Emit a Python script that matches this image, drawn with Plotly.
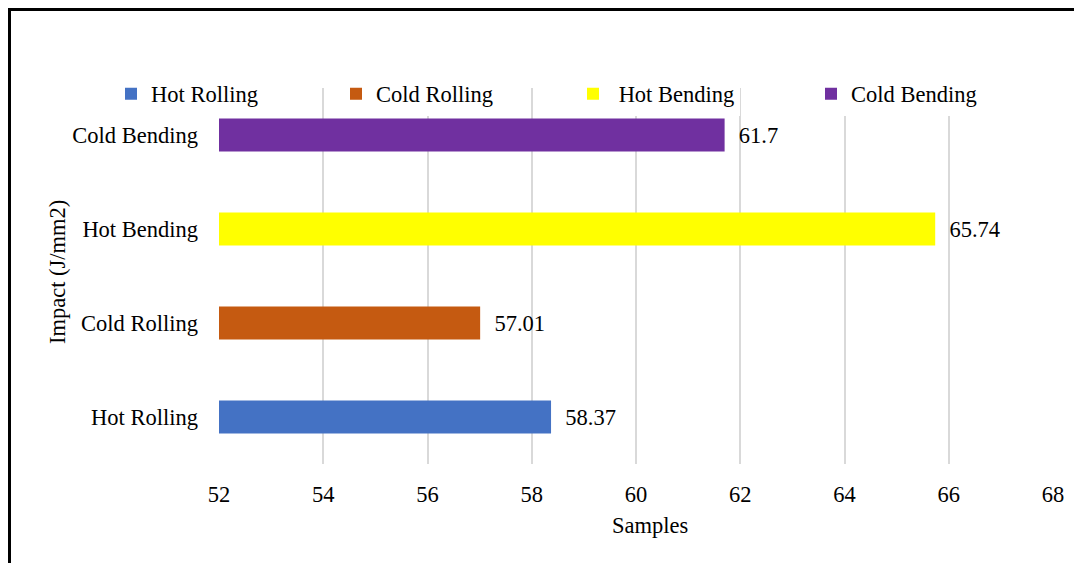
import plotly.graph_objects as go

categories = ["Hot Rolling", "Cold Rolling", "Hot Bending", "Cold Bending"]
legend_names = ["Hot Rolling", "Cold Rolling", " Hot Bending", "Cold Bending"]
values = [58.37, 57.01, 65.74, 61.7]
labels = ["58.37", "57.01", "65.74", "61.7"]
colors = ["#4472C4", "#C55A11", "#FFFF00", "#7030A0"]
x_ticks = [52, 54, 56, 58, 60, 62, 64, 66, 68]
x_title = "Samples"
y_title = "Impact (J/mm2)"
AXIS_MIN = 52

FONT = "Liberation Serif, Times New Roman, serif"
FS = 22.5

# figure geometry (page is offset by 8px body margin)
W, H = 1074, 555
L, R, T, B = 211, 29, 80, 99
pw = W - L - R
ph = H - T - B


def px_x(p):
    return (p - L) / pw


def px_y(p):
    return (H - B - p) / ph


legend_ids = ["legend", "legend2", "legend3", "legend4"]
legend_marker_centers = [137, 362, 599, 837]  # page px of reference markers

fig = go.Figure()
for cat, name, v, lab, c, lid in zip(categories, legend_names, values, labels, colors, legend_ids):
    fig.add_trace(go.Bar(
        y=[cat], x=[v - AXIS_MIN], base=AXIS_MIN, name=name, orientation="h",
        marker=dict(color=c, line=dict(width=0)),
        width=0.35,
        text=["\u00a0\u00a0" + lab], textposition="outside",
        textfont=dict(family=FONT, size=FS, color="black"),
        cliponaxis=False, legend=lid,
    ))

legends = {}
for lid, mc in zip(legend_ids, legend_marker_centers):
    legends[lid] = dict(
        orientation="h", x=px_x(mc - 8 - 26), y=px_y(94 - 8),
        xanchor="left", yanchor="middle",
        font=dict(family=FONT, size=FS, color="black"),
        bgcolor="white", borderwidth=0, itemclick=False, itemdoubleclick=False,
    )

fig.update_layout(
    width=W, height=H,
    margin=dict(l=L, r=R, t=T, b=B),
    paper_bgcolor="white", plot_bgcolor="white",
    barmode="overlay",
    font=dict(family=FONT, size=FS, color="black"),
    showlegend=True,
    xaxis=dict(
        range=[52, 68], tickvals=x_ticks, ticktext=[str(t) for t in x_ticks],
        showgrid=True, gridcolor="#D9D9D9", gridwidth=2,
        zeroline=False, showline=False, ticks="", ticklabelstandoff=14,
        tickfont=dict(family=FONT, size=FS),
    ),
    yaxis=dict(
        categoryorder="array", categoryarray=categories,
        range=[-0.5, 3.5],
        showgrid=False, zeroline=False, showline=False, ticks="",
        ticklabelstandoff=20,
        tickfont=dict(family=FONT, size=FS),
    ),
    annotations=[
        dict(text=x_title, xref="paper", yref="paper",
             x=px_x(650 - 8), y=px_y(525 - 8), xanchor="center", yanchor="middle",
             showarrow=False, font=dict(family=FONT, size=FS, color="black")),
        dict(text=y_title, xref="paper", yref="paper", textangle=-90,
             x=px_x(57 - 8), y=px_y(272 - 8), xanchor="center", yanchor="middle",
             showarrow=False, font=dict(family=FONT, size=FS, color="black")),
    ],
    shapes=[
        dict(type="line", xref="paper", yref="paper",
             x0=px_x(1.5), x1=px_x(W + 20), y0=px_y(1.5), y1=px_y(1.5),
             line=dict(color="black", width=3)),
        dict(type="line", xref="paper", yref="paper",
             x0=px_x(1.5), x1=px_x(1.5), y0=px_y(0), y1=px_y(H + 20),
             line=dict(color="black", width=3)),
    ],
    **legends,
)

fig.write_html("out.html")
